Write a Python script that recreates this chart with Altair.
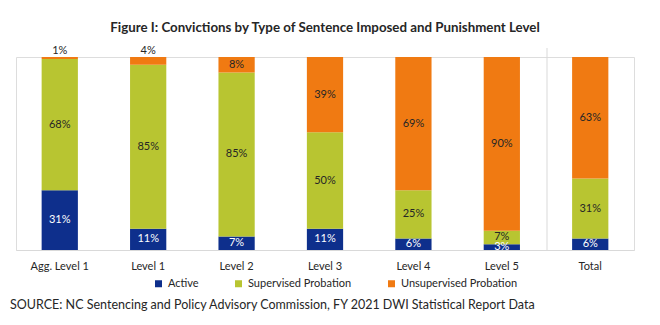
import altair as alt
import pandas as pd

levels = ["Agg. Level 1", "Level 1", "Level 2", "Level 3", "Level 4", "Level 5", "Total"]
sentence_types = ["Active", "Supervised Probation", "Unsupervised Probation"]
active = [31, 11, 7, 11, 6, 3, 6]
supervised = [68, 85, 85, 50, 25, 7, 31]
unsupervised = [1, 4, 8, 39, 69, 90, 63]
colors = ["#0E2F8C", "#B8C531", "#F07A12"]

title_text = "Figure I: Convictions by Type of Sentence Imposed and Punishment Level"
source_text = "SOURCE: NC Sentencing and Policy Advisory Commission, FY 2021 DWI Statistical Report Data"

FONT = "Lato"

rows = []
for i, lvl in enumerate(levels):
    start = 0
    for t, vals in zip(sentence_types, [active, supervised, unsupervised]):
        v = vals[i]
        end = start + v
        ypos = (start + end) / 2 if v >= 5 or t == "Active" else 103
        rows.append({"level": lvl, "type": t, "value": v, "y0": start, "y1": end,
                     "ypos": ypos, "label": f"{v}%"})
        start = end
df = pd.DataFrame(rows)

W, H = 618, 193

base = alt.Chart(df)

bars = base.mark_bar().encode(
    x=alt.X("level:N", sort=levels,
            scale=alt.Scale(paddingInner=0.59, paddingOuter=0.29),
            axis=alt.Axis(title=None, labelAngle=0, ticks=False, domainColor="#d9d9d9",
                          labelFontSize=11, labelPadding=10, labelColor="#262626",
                          labelFont=FONT)),
    y=alt.Y("y0:Q", scale=alt.Scale(domain=[0, 100]), axis=None),
    y2="y1:Q",
    color=alt.Color("type:N", sort=sentence_types,
                    scale=alt.Scale(domain=sentence_types, range=colors),
                    legend=alt.Legend(title=None, orient="none", direction="horizontal",
                                      legendX=137, legendY=221, symbolType="square",
                                      symbolSize=49, symbolStrokeWidth=0,
                                      labelFontSize=11, labelFont=FONT, labelColor="#262626",
                                      columnPadding=34, labelOffset=4, padding=0)),
)

labels = base.mark_text(fontSize=11, font=FONT, baseline="middle").encode(
    x=alt.X("level:N", sort=levels),
    y=alt.Y("ypos:Q"),
    text="label:N",
    color=alt.condition(alt.datum.type == "Active", alt.value("white"), alt.value("#262626")),
)

divider = alt.Chart(pd.DataFrame({"d": [0]})).mark_rule(color="#d9d9d9", strokeWidth=1).encode(
    x=alt.value(531), y=alt.value(-9), y2=alt.value(H)
)

source = alt.Chart(pd.DataFrame({"d": [0]})).mark_text(
    align="left", baseline="middle", fontSize=12.5, font=FONT, color="#262626"
).encode(x=alt.value(-6), y=alt.value(H + 55), text=alt.value(source_text))

chart = alt.layer(divider, bars, labels, source).properties(
    width=W, height=H,
    title=alt.TitleParams(title_text, fontSize=13.3, fontWeight="bold", font=FONT,
                          anchor="middle", offset=11, color="#262626"),
    autosize=alt.AutoSizeParams(type="none"),
    padding={"left": 16, "top": 57, "right": 26, "bottom": 75},
).configure_view(stroke=None).configure(background="white")

chart.save("out.html", embed_options={"renderer": "svg", "actions": False})
